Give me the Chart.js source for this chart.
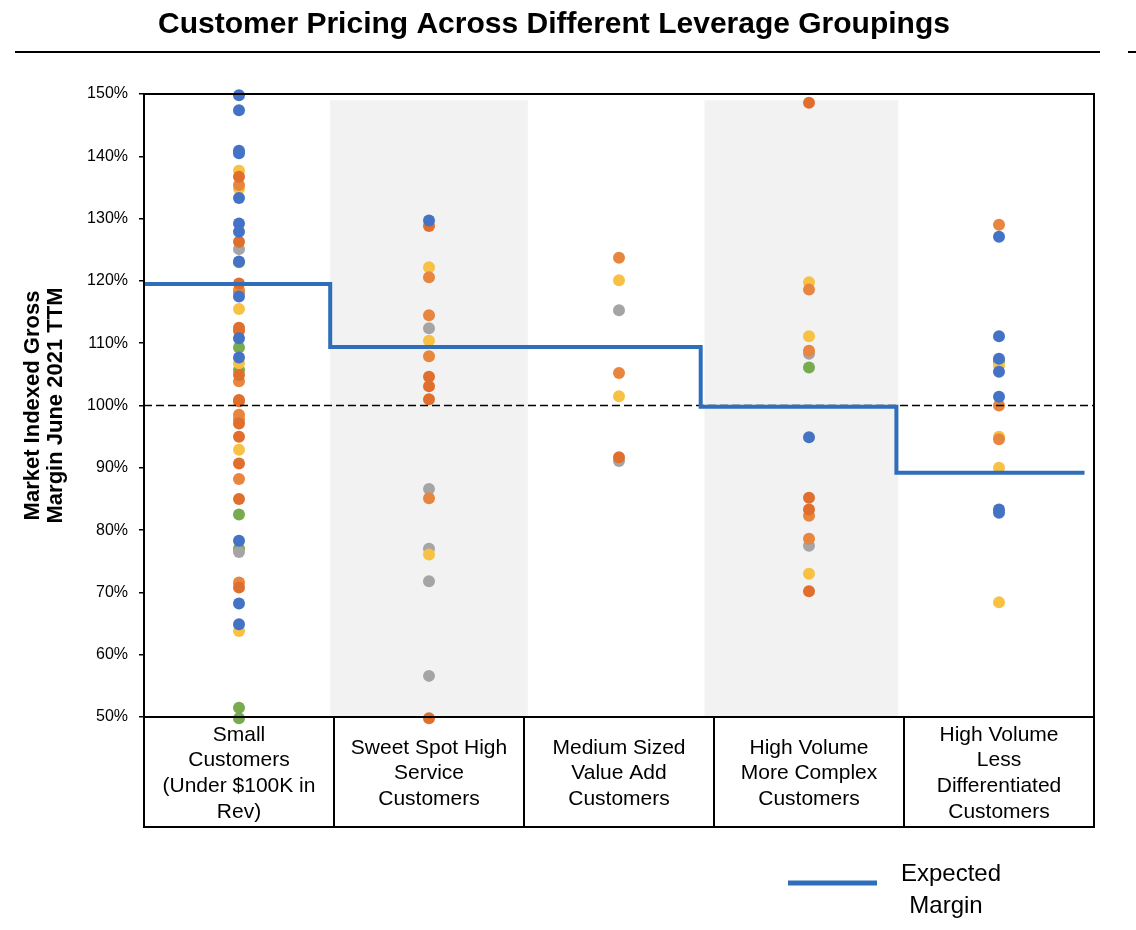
<!DOCTYPE html>
<html>
<head>
<meta charset="utf-8">
<title>Customer Pricing Across Different Leverage Groupings</title>
<script src="https://cdn.jsdelivr.net/npm/chart.js@4.4.1/dist/chart.umd.min.js"></script>
<style>
    html, body { margin: 0; padding: 0; background: #ffffff; }
    #wrap { width: 1136px; height: 930px; position: relative; }
</style>
</head>
<body>
<div id="wrap"><canvas id="pricing-chart"></canvas></div>
<script>
// categories (one column each)
var categories = [
    ['Small', 'Customers', '(Under $100K in', 'Rev)'],
    ['Sweet Spot High', 'Service', 'Customers'],
    ['Medium Sized', 'Value Add', 'Customers'],
    ['High Volume', 'More Complex', 'Customers'],
    ['High Volume', 'Less', 'Differentiated', 'Customers']
];

// customer dots, % values per column, grouped by dot colour
var blueDots = [
    [149.8, 147.4, 140.9, 140.5, 133.3, 129.2, 127.9, 123.1, 117.5, 110.8, 107.7, 78.3, 68.2, 64.9],
    [129.7],
    [],
    [94.9],
    [127.1, 111.1, 107.5, 105.4, 101.4, 83.3, 82.8]
];
var orangeDots = [
    [136.7, 126.3, 119.6, 112.5, 112.0, 104.9, 100.9, 100.7, 97.1, 95.0, 90.7, 85.0, 70.8],
    [128.8, 104.6, 103.1, 101.0, 49.8],
    [91.7],
    [148.6, 85.2, 83.3, 70.2],
    []
];
var lightOrangeDots = [
    [135.4, 118.5, 118.1, 103.9, 98.5, 97.8, 88.2, 71.6],
    [120.6, 114.5, 107.9, 85.1],
    [123.7, 105.2],
    [118.6, 108.8, 82.3, 78.6],
    [129.0, 100.0, 94.6]
];
var yellowDots = [
    [137.7, 134.8, 115.5, 106.8, 92.9, 63.8],
    [122.2, 110.4, 76.1],
    [120.1, 101.5],
    [119.8, 111.1, 73.0],
    [106.4, 95.0, 90.0, 68.4]
];
var grayDots = [
    [125.1, 76.5],
    [112.4, 86.6, 77.0, 71.8, 56.6],
    [115.3, 91.1],
    [108.3, 77.5],
    []
];
var greenDots = [
    [123.0, 109.3, 105.7, 82.5, 77.0, 51.5, 49.8],
    [],
    [],
    [106.1],
    [107.1]
];

// expected margin step line: edges on the x scale and level of each step
var stepEdges = [-0.5, 0.48, 2.43, 3.46, 4.45];
var stepLevels = [119.5, 109.4, 99.8, 89.2];

// market parity reference line
var parityLevel = 100;

// shaded bands behind columns 2 and 4
var bandStarts = [0.48, 2.45];
var bandEnds = [1.52, 3.47];
var bandTop = 149;

var yMin = 50, yMax = 150, yStep = 10;

function toPoints(cols) {
    var pts = [];
    cols.forEach(function (vals, i) {
        vals.forEach(function (v) { pts.push({ x: i, y: v }); });
    });
    return pts;
}

function stepPoints() {
    var pts = [];
    for (var i = 0; i < stepLevels.length; i++) {
        pts.push({ x: stepEdges[i], y: stepLevels[i] });
        pts.push({ x: stepEdges[i + 1], y: stepLevels[i] });
    }
    return pts;
}

function dotSet(label, cols, color) {
    return {
        type: 'scatter',
        label: label,
        data: toPoints(cols),
        backgroundColor: color,
        borderWidth: 0,
        pointRadius: 6,
        pointHoverRadius: 6,
        clip: false,
        order: 2
    };
}

var FONT = "'Liberation Sans', Arial, Helvetica, sans-serif";

var decorPlugin = {
    id: 'decor',
    beforeDraw: function (chart) {
        var ctx = chart.ctx, x = chart.scales.x, y = chart.scales.y;
        ctx.save();
        ctx.fillStyle = '#f1f2f1';
        for (var i = 0; i < bandStarts.length; i++) {
            var x0 = x.getPixelForValue(bandStarts[i]);
            var x1 = x.getPixelForValue(bandEnds[i]);
            var y0 = y.getPixelForValue(bandTop);
            var y1 = y.getPixelForValue(yMin);
            ctx.fillRect(x0, y0, x1 - x0, y1 - y0);
        }
        ctx.restore();
    },
    afterDraw: function (chart) {
        var ctx = chart.ctx, area = chart.chartArea, x = chart.scales.x;
        ctx.save();
        ctx.strokeStyle = '#000';
        ctx.lineWidth = 2;
        // plot frame
        ctx.strokeRect(area.left, area.top, area.right - area.left, area.bottom - area.top);
        // table bottom
        ctx.beginPath();
        ctx.moveTo(area.left - 1, x.top + 110);
        ctx.lineTo(area.right + 1, x.top + 110);
        ctx.stroke();
        // rule under title
        ctx.beginPath();
        ctx.moveTo(15, 52);
        ctx.lineTo(1100, 52);
        ctx.moveTo(1128, 52);
        ctx.lineTo(1136, 52);
        ctx.stroke();
        // legend
        var ds = chart.data.datasets[0];
        ctx.strokeStyle = ds.borderColor;
        ctx.lineWidth = 5;
        ctx.beginPath();
        ctx.moveTo(788, 883);
        ctx.lineTo(877, 883);
        ctx.stroke();
        ctx.fillStyle = '#000';
        ctx.font = '24px ' + FONT;
        ctx.textAlign = 'center';
        ctx.textBaseline = 'middle';
        ctx.fillText('Expected', 951, 874);
        ctx.fillText('Margin', 946, 906);
        ctx.restore();
    }
};

document.addEventListener('DOMContentLoaded', function () {
    var ctx = document.getElementById('pricing-chart').getContext('2d');
    new Chart(ctx, {
        type: 'scatter',
        data: {
            datasets: [
                {
                    type: 'line',
                    label: 'Expected Margin',
                    data: stepPoints(),
                    borderColor: '#2f6eba',
                    borderWidth: 4,
                    pointRadius: 0,
                    fill: false,
                    tension: 0,
                    clip: false,
                    order: 0
                },
                {
                    type: 'line',
                    label: 'Market',
                    data: [{ x: -0.5, y: parityLevel }, { x: 4.5, y: parityLevel }],
                    borderColor: '#000',
                    borderWidth: 1.5,
                    borderDash: [8, 4],
                    pointRadius: 0,
                    fill: false,
                    order: 1
                },
                dotSet('Blue', blueDots, '#4472c4'),
                dotSet('Orange', orangeDots, '#e06f2d'),
                dotSet('Light orange', lightOrangeDots, '#e8853f'),
                dotSet('Yellow', yellowDots, '#f7c244'),
                dotSet('Gray', grayDots, '#a5a5a5'),
                dotSet('Green', greenDots, '#78aa50')
            ]
        },
        options: {
            responsive: true,
            maintainAspectRatio: false,
            animation: false,
            layout: {
                padding: { top: 0, left: 14, right: 42, bottom: 101 }
            },
            plugins: {
                legend: { display: false },
                tooltip: { enabled: false },
                title: {
                    display: true,
                    text: 'Customer Pricing Across Different Leverage Groupings',
                    color: '#000',
                    font: { family: FONT, size: 30, weight: 'bold', lineHeight: 1.2 },
                    padding: { top: 7, bottom: 51 }
                }
            },
            scales: {
                x: {
                    type: 'linear',
                    position: 'bottom',
                    min: -0.5,
                    max: 4.5,
                    afterBuildTicks: function (scale) {
                        scale.ticks = categories.map(function (c, i) { return { value: i }; });
                    },
                    afterFit: function (scale) { scale.height = 112; },
                    ticks: {
                        callback: function (value) { return categories[value]; },
                        color: '#000',
                        font: { family: FONT, size: 21, lineHeight: 1.22 },
                        padding: -92,
                        crossAlign: 'center',
                        maxRotation: 0,
                        minRotation: 0,
                        autoSkip: false
                    },
                    grid: {
                        offset: true,
                        drawOnChartArea: false,
                        drawTicks: true,
                        tickLength: 110,
                        color: '#000',
                        lineWidth: 2
                    },
                    border: { display: true, color: '#000', width: 2 }
                },
                y: {
                    min: yMin,
                    max: yMax,
                    afterFit: function (scale) { scale.width = 130; },
                    ticks: {
                        stepSize: yStep,
                        callback: function (value) { return value + '%'; },
                        color: '#000',
                        font: { family: FONT, size: 16 },
                        padding: 11
                    },
                    grid: {
                        drawOnChartArea: false,
                        drawTicks: true,
                        tickLength: 5,
                        color: '#000',
                        lineWidth: 1.5
                    },
                    border: { display: true, color: '#000', width: 2 },
                    title: {
                        display: true,
                        text: ['Market Indexed Gross', 'Margin June 2021 TTM'],
                        color: '#000',
                        font: { family: FONT, size: 22, weight: 'bold', lineHeight: 1.05 },
                        padding: { top: 7.5, bottom: 0 }
                    }
                }
            }
        },
        plugins: [decorPlugin]
    });
});
</script>
</body>
</html>
